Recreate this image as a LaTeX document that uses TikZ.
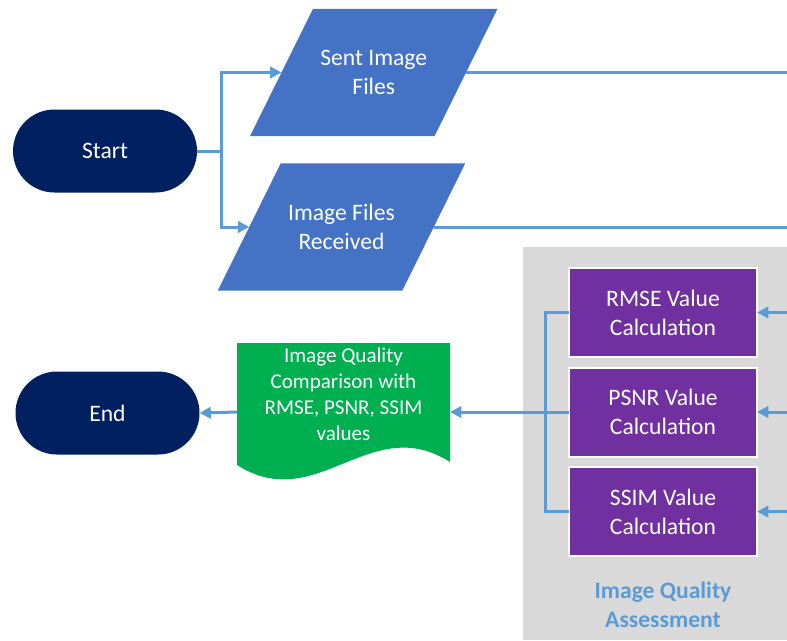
\documentclass[tikz,border=0pt]{standalone}
\usepackage{fontspec}
\setmainfont{Carlito}
\usetikzlibrary{arrows.meta,calc,backgrounds}
\definecolor{navy}{HTML}{002060}
\definecolor{parablue}{HTML}{4472C4}
\definecolor{purp}{HTML}{7030A0}
\definecolor{docgreen}{HTML}{00B050}
\definecolor{linkblue}{HTML}{5B9BD5}
\definecolor{panelgray}{HTML}{D9D9D9}
\newcommand\parafill[2]{%
  \fill[parablue] ($(#1.north west)+(#2,0)$) -- ($(#1.north east)+(#2,0)$)
    -- ($(#1.south east)+(-#2,0)$) -- ($(#1.south west)+(-#2,0)$) -- cycle;}
\begin{document}
\begin{tikzpicture}[x=0.75pt,y=-0.75pt,
  every node/.style={inner sep=0pt, outer sep=0pt},
  mainfont/.style={font=\fontsize{17.7pt}{21.75pt}\selectfont},
  terminal/.style={mainfont, fill=navy, text=white, minimum width=138pt,
    minimum height=62.25pt, rounded corners=31.1pt},
  iobox/.style={mainfont, text=white, align=center, minimum width=138.4pt,
    minimum height=95.5pt},
  calcbox/.style={mainfont, fill=purp, draw=white, line width=1.5pt, text=white,
    align=center, minimum width=141pt, minimum height=66.75pt},
  link/.style={draw=linkblue, line width=2.25pt},
  arrowlink/.style={link, -{Triangle[length=8.5pt,width=8.5pt]}},
]
\useasboundingbox (0,0) rectangle (787,640);
% panel
\node[fill=panelgray, minimum width=198pt, minimum height=294.75pt, anchor=north west] (panel) at (523,247) {};
\node[font=\bfseries\fontsize{17.7pt}{21.75pt}\selectfont, text=linkblue, align=center] (paneltitle) at (663,605) {Image Quality\\Assessment};

% terminals
\node[terminal] (start) at (105,151) {Start};
\node[terminal] (end) at (107.5,413) {End};

% input/output
\node[iobox] (sent) at (373.75,72.5) {Sent Image\\Files};
\node[iobox] (recv) at (341.5,227) {Image Files\\Received};

% calculations
\node[calcbox] (rmse) at (663,312.5) {RMSE Value\\Calculation};
\node[calcbox] (psnr) at (663,412) {PSNR Value\\Calculation};
\node[calcbox] (ssim) at (663,511.5) {SSIM Value\\Calculation};

% document
\node[minimum width=159.75pt, minimum height=103.5pt] (doc) at (343.5,412) {};
\node[font=\fontsize{15.8pt}{19.5pt}\selectfont, text=white, align=center] (doctext) at (343.5,394)
  {Image Quality\\Comparison with\\RMSE, PSNR, SSIM\\values};

\begin{pgfonlayer}{background}
  \parafill{sent}{31.5}
  \parafill{recv}{31.5}
  \fill[docgreen] (doc.north west) -- (doc.north east) -- ($(doc.south east)+(0,-19)$)
    .. controls ($(doc.south east)+(-80,-70)$) and ($(doc.south west)+(80,35)$) ..
    ($(doc.south west)+(0,-16)$) -- cycle;
\end{pgfonlayer}

% connectors
\coordinate (j1) at (221,151);
\draw[link] (start.east) -- (j1);
\draw[arrowlink] (j1) |- (sent.west);
\draw[arrowlink] (j1) |- (recv.west);
\coordinate (sentout) at (787,72.5);
\coordinate (recvout) at (787,227);
\draw[link] (sent.east) -- (sentout);
\draw[link] (recv.east) -- (recvout);
\coordinate (in1) at (787,312.5);
\coordinate (in2) at (787,412);
\coordinate (in3) at (787,511.5);
\draw[arrowlink] (in1) -- (rmse.east);
\draw[arrowlink] (in2) -- (psnr.east);
\draw[arrowlink] (in3) -- (ssim.east);
\coordinate (j2) at (545,412);
\draw[link] (rmse.west) -| (j2) |- (ssim.west);
\draw[arrowlink] (psnr.west) -- (doc.east);
\draw[arrowlink] (doc.west) -- (end.east);
\end{tikzpicture}
\end{document}
